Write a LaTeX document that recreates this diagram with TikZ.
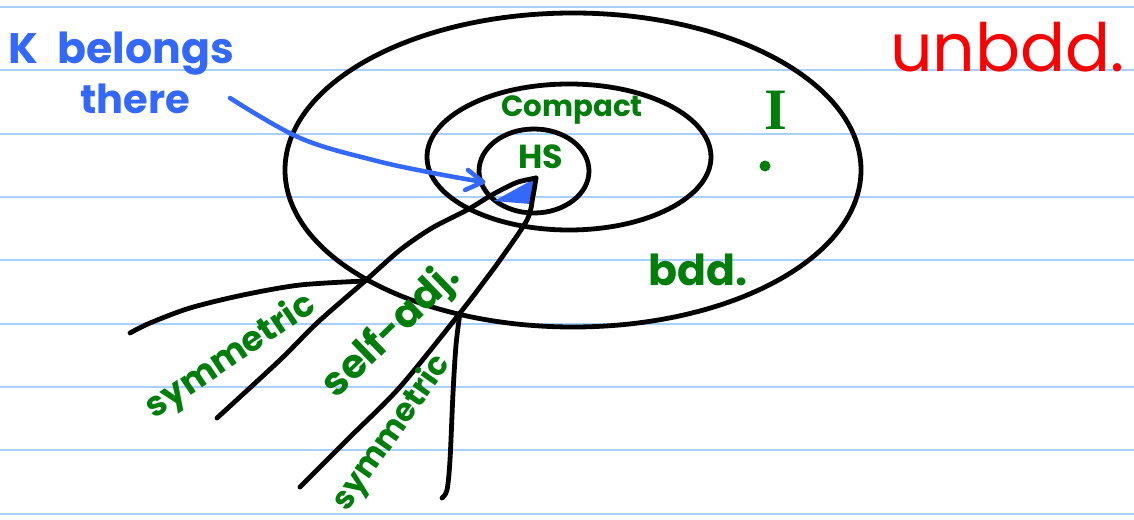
\documentclass[tikz,border=0pt]{standalone}
\usepackage{fontspec}
\setmainfont{Poppins}
\newfontfamily\serifI{Liberation Serif}
\usetikzlibrary{arrows.meta}
\definecolor{paper}{RGB}{168,208,250}
\definecolor{ink}{RGB}{0,0,0}
\definecolor{pblue}{RGB}{52,104,250}
\definecolor{pgreen}{RGB}{0,125,10}
\definecolor{pred}{RGB}{250,0,0}
\tikzset{
  rule/.style={paper, line width=1.5pt},
  pen/.style={ink, line width=3.6pt, line cap=round, line join=round},
  bluepen/.style={pblue, line width=3.4pt, line cap=round, line join=round},
  glabel/.style={pgreen, font=\bfseries, inner sep=0pt},
}
\begin{document}
\begin{tikzpicture}[x=0.75pt, y=-0.75pt]
\useasboundingbox (0,0) rectangle (1134,520);
% ruled paper
\foreach \k in {0,...,8} {
  \draw[rule] (0,{7+63.33*\k}) -- (1134,{7+63.33*\k});
}
% ellipses
\draw[pen] (573,170) ellipse [x radius=288, y radius=157];
\draw[pen] (569,157) ellipse [x radius=142, y radius=73];
\draw[pen] (534,171) ellipse [x radius=55, y radius=42];
% junctions
\coordinate (tip) at (536,178);
\coordinate (A) at (365,281);
\coordinate (B) at (460,313);
% blue wedge
\fill[pblue] (494,201) -- (tip) -- (530,204) -- cycle;
% cone lines
\draw[pen] plot[smooth, tension=0.5] coordinates {(tip) (518,182) (505,188) (490,196) (467,210) (432,228) (400,250) (A) (317,323) (280,360) (217,418)};
\draw[pen] plot[smooth, tension=0.5] coordinates {(A) (300,285) (243,295) (190,308) (150,323) (130,333)};
\draw[pen] plot[smooth, tension=0.5] coordinates {(tip) (533,196) (527,220) (500,260) (483,283) (B) (400,387) (350,437) (300,487)};
\draw[pen] plot[smooth, tension=0.5] coordinates {(B) (456,345) (453,393) (450,460) (447,490) (442,498)};
% blue arrow
\coordinate (astart) at (230,98);
\coordinate (aend) at (483,182);
\draw[bluepen] plot[smooth, tension=0.6] coordinates {(astart) (300,138) (373,160) (433,173) (aend)};
\draw[bluepen] (468,170) -- (aend) -- (465,190);
% texts
\node[pblue, font=\bfseries\fontsize{32}{34}\selectfont, anchor=base west, inner sep=0pt] (kb) at (8,64) {K\hspace{0.25em} belongs};
\node[pblue, font=\bfseries\fontsize{30}{32}\selectfont, anchor=base west, inner sep=0pt] (th) at (80,114) {there};
\node[pred, font=\fontsize{50}{52}\selectfont, anchor=base west, inner sep=0pt] (ub) at (890,72) {unbdd.};
\node[glabel, font=\bfseries\fontsize{22}{24}\selectfont] (cp) at (572,110) {Compact};
\node[glabel, font=\bfseries\fontsize{25}{27}\selectfont] (hs) at (541,157) {HS};
\node[glabel, font=\serifI\bfseries\fontsize{44}{46}\selectfont] (id) at (776,110) {I};
\fill[pgreen] (765,166) circle (5.5);
\node[glabel, font=\bfseries\fontsize{32}{34}\selectfont] (bd) at (698,270) {bdd.};
\node[glabel, font=\bfseries\fontsize{26}{28}\selectfont, rotate=34] (s1) at (231,357) {symmetric};
\node[glabel, font=\bfseries\fontsize{30}{32}\selectfont, rotate=44] (sa) at (392,331) {self-adj.};
\node[glabel, font=\bfseries\fontsize{24}{26}\selectfont, rotate=55] (s2) at (392,433) {symmetric};
\end{tikzpicture}
\end{document}
